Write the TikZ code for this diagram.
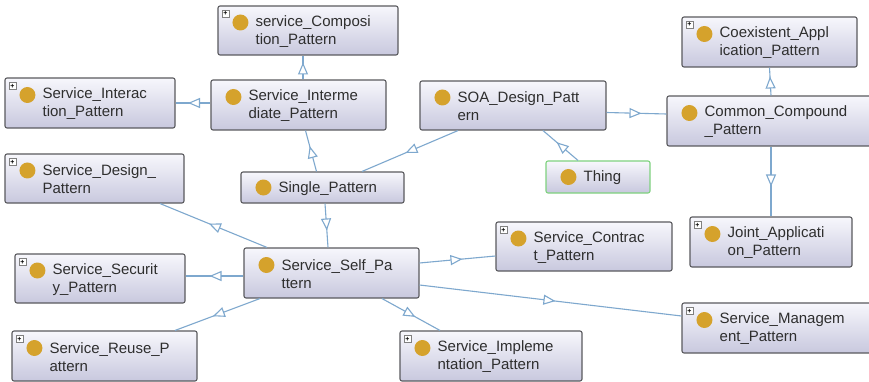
\documentclass[tikz,border=0pt]{standalone}
\usepackage{fontspec}
\setmainfont{Liberation Sans}
\usetikzlibrary{arrows.meta,decorations.markings,calc}
\definecolor{edgec}{HTML}{7EA8CE}
\definecolor{boxb}{HTML}{5A5A5E}
\definecolor{boxt}{HTML}{F7F7FC}
\definecolor{boxbot}{HTML}{C8C8DE}
\definecolor{dotc}{HTML}{D5A22C}
\definecolor{txt}{HTML}{2E2E2E}
\definecolor{thingc}{HTML}{7FD27F}
\tikzset{
 cls/.style={draw=boxb, line width=1.1pt, rounded corners=2pt, top color=boxt, bottom color=boxbot, inner sep=0},
 lbl/.style={anchor=west, inner sep=0, align=left, font=\fontsize{15}{18}\selectfont, text=txt},
 dot/.style={circle, fill=dotc, minimum size=16pt, inner sep=0},
 plusbox/.style={draw=gray, fill=white, line width=0.5pt, minimum size=7pt, inner sep=0, font=\fontsize{7}{7}\selectfont\bfseries},
 isa/.style={draw=edgec, line width=1.1pt, decoration={markings, mark=at position 0.5 with {\arrow[xshift=5pt]{Triangle[length=12pt,width=10pt,fill=white]}}}, postaction={decorate}},
}
% #1 name, #2 cx, #3 cy, #4 w, #5 h, #6 text, #7 dot yshift
\newcommand\mkcls[7]{%
 \node[cls, minimum width=#4pt, minimum height=#5pt] (#1) at (#2,#3) {};
 \node[dot] (#1-d) at ([xshift=23pt,yshift=#7pt]#1.west) {};
 \node[lbl] (#1-t) at ([xshift=38pt,yshift=-1pt]#1.west) {#6};
}
\newcommand\mkplus[1]{%
 \node[plusbox] (#1-p) at ([xshift=8pt,yshift=-8.5pt]#1.north west) {+};
}
\begin{document}
\begin{tikzpicture}[x=1pt,y=-1pt]
\useasboundingbox[fill=white] (0,0) rectangle (869,382);
\mkcls{comp}{308}{30.5}{180}{49}{service\_Composi\\tion\_Pattern}{8}
\mkplus{comp}
\mkcls{inter}{90}{103}{170}{50}{Service\_Interac\\tion\_Pattern}{8}
\mkplus{inter}
\mkcls{interm}{298.5}{105}{175}{50}{Service\_Interme\\diate\_Pattern}{8}
\mkcls{design}{94.5}{178.5}{179}{49}{Service\_Design\_\\Pattern}{8}
\mkplus{design}
\mkcls{single}{322.5}{187.5}{163}{31}{Single\_Pattern}{0}
\mkcls{soa}{513}{105.5}{186}{49}{SOA\_Design\_Patt\\ern}{8}
\mkcls{coex}{769.5}{42}{175}{50}{Coexistent\_Appl\\ication\_Pattern}{8}
\mkplus{coex}
\mkcls{common}{771}{121}{208}{50}{Common\_Compound\\\_Pattern}{8}
\node[cls, draw=thingc, minimum width=104pt, minimum height=32pt] (thing) at (598,177) {};
\node[dot] (thing-d) at ([xshift=23pt]thing.west) {};
\node[lbl] (thing-t) at ([xshift=38pt,yshift=-1pt]thing.west) {Thing};
\mkcls{sec}{100}{278.5}{170}{49}{Service\_Securit\\y\_Pattern}{8}
\mkplus{sec}
\mkcls{self}{331.5}{273}{175}{50}{Service\_Self\_Pa\\ttern}{8}
\mkcls{reuse}{104.5}{356}{185}{50}{Service\_Reuse\_P\\attern}{8}
\mkplus{reuse}
\mkcls{impl}{491}{356}{182}{50}{Service\_Impleme\\ntation\_Pattern}{8}
\mkplus{impl}
\mkcls{contract}{584}{246.5}{176}{49}{Service\_Contrac\\t\_Pattern}{8}
\mkplus{contract}
\mkcls{joint}{771}{242}{162}{50}{Joint\_Applicati\\on\_Pattern}{8}
\mkplus{joint}
\mkcls{mgmt}{778.5}{328}{193}{50}{Service\_Managem\\ent\_Pattern}{8}
\mkplus{mgmt}
% edges
\draw[isa] ([xshift=4.5pt]interm.north) -- ([xshift=-5pt]comp.south);
\draw[isa] ([yshift=2pt]interm.west) -- (inter.east);
\draw[isa] ([xshift=-6pt]single.north) -- ([xshift=7pt]interm.south);
\draw[isa] ([xshift=-55pt]soa.south) -- ([xshift=39.5pt]single.north);
\draw[isa] ([xshift=-20pt]thing.north) -- ([xshift=30pt]soa.south);
\draw[isa] ([yshift=-7pt]soa.east) -- ([yshift=7pt]common.west);
\draw[isa] (common.north) -- (coex.south);
\draw[isa] (common.south) -- (joint.north);
\draw[isa] ([xshift=2.5pt]single.south) -- ([xshift=-3.5pt]self.north);
\draw[isa] ([xshift=-64.5pt]self.north) -- ([xshift=65.5pt]design.south);
\draw[isa] ([yshift=-3pt]self.west) -- ([yshift=2.5pt]sec.east);
\draw[isa] ([xshift=-71.5pt]self.south) -- ([xshift=70.5pt]reuse.north);
\draw[isa] ([xshift=50.5pt]self.south) -- ([xshift=-51pt]impl.north);
\draw[isa] ([yshift=10pt]self.east) -- ([yshift=-9.5pt]contract.west);
\draw[isa] ([yshift=-12pt]self.east) -- ([yshift=12pt]mgmt.west);
\end{tikzpicture}
\end{document}
